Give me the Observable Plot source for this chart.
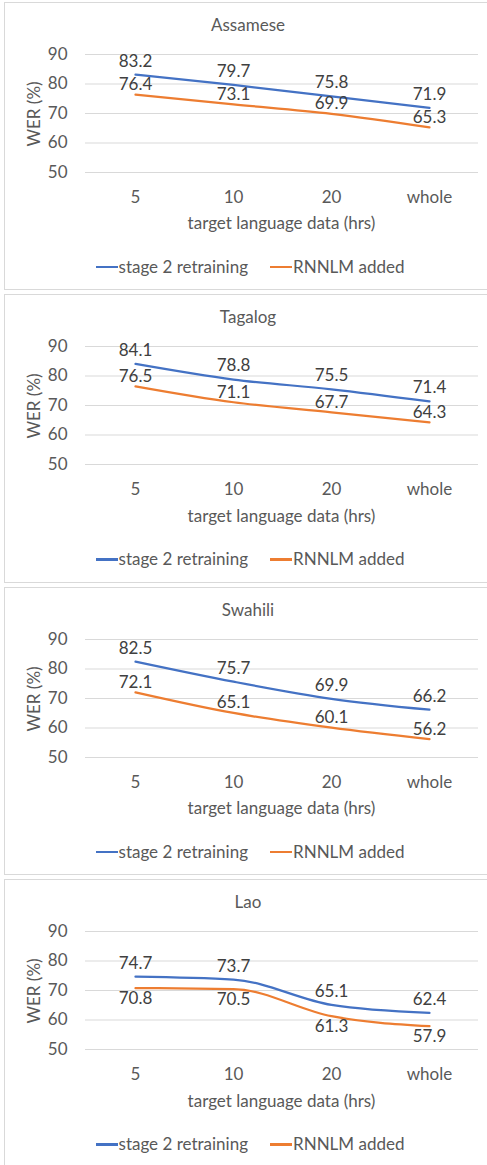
<!DOCTYPE html>
<html><head><meta charset="utf-8">
<script src="https://cdn.jsdelivr.net/npm/d3@7"></script>
<script src="https://cdn.jsdelivr.net/npm/@observablehq/plot@0.6"></script>
<style>
body{margin:0;background:#fff;font-family:Lato,sans-serif;color:#595959;}
#root{position:relative;width:487px;height:1165px;overflow:hidden;}
.panel{position:absolute;left:0;width:487px;height:292px;}
.frame{position:absolute;left:4px;top:0;width:490px;height:286.5px;border:1.5px solid #d9d9d9;box-sizing:content-box;}
.title{position:absolute;left:0;width:496px;text-align:center;top:12px;line-height:21px;font-size:17px;color:#595959;}
.xtitle{position:absolute;left:0;width:563px;text-align:center;top:210.5px;line-height:21px;font-size:17px;color:#595959;}
.ytitle{position:absolute;left:33px;top:112px;width:0;height:0;}
.ytitle span{position:absolute;left:0;top:0;transform:translate(-50%,-50%) rotate(-90deg);white-space:nowrap;font-size:17px;line-height:21px;}
.legend{position:absolute;left:0;width:500px;top:254px;line-height:21px;font-size:17px;text-align:center;color:#595959;white-space:nowrap;}
.legend .item{display:inline-block;margin:0 11px;}
.legend .sw{display:inline-block;width:22px;height:2.5px;vertical-align:middle;margin-right:1px;position:relative;top:-1px;}
.panel svg{position:absolute;left:0;top:0;}
</style>
</head><body><div id="root"></div>
<script>
const categories = ["5", "10", "20", "whole"];
const languages = ["Assamese", "Tagalog", "Swahili", "Lao"];
const seriesNames = ["stage 2 retraining", "RNNLM added"];
const stage2Retraining = [
  [83.2, 79.7, 75.8, 71.9],
  [84.1, 78.8, 75.5, 71.4],
  [82.5, 75.7, 69.9, 66.2],
  [74.7, 73.7, 65.1, 62.4]
];
const rnnlmAdded = [
  [76.4, 73.1, 69.9, 65.3],
  [76.5, 71.1, 67.7, 64.3],
  [72.1, 65.1, 60.1, 56.2],
  [70.8, 70.5, 61.3, 57.9]
];
const yTicks = [50, 60, 70, 80, 90];
const xTitle = "target language data (hrs)";
const yTitle = "WER (%)";

const colors = ["#4472C4", "#ED7D31"];
const root = document.getElementById("root");

languages.forEach((lang, i) => {
  const top = 1.5 + i * 292.5;
  const panel = document.createElement("div");
  panel.className = "panel";
  panel.style.top = top + "px";
  root.appendChild(panel);

  const frame = document.createElement("div");
  frame.className = "frame";
  panel.appendChild(frame);

  const rows = [];
  [stage2Retraining[i], rnnlmAdded[i]].forEach((vals, s) => {
    vals.forEach((v, k) => rows.push({series: seriesNames[s], cat: categories[k], value: v, s}));
  });
  const orangeBelow = lang === "Lao";

  const chart = Plot.plot({
    width: 487,
    height: 215,
    marginTop: 52,
    marginBottom: 45,
    marginLeft: 85,
    marginRight: 9,
    style: {fontFamily: "Lato, sans-serif", fontSize: "17px", color: "#595959", background: "transparent"},
    x: {type: "point", domain: categories, padding: 0.5},
    y: {domain: [50, 90]},
    marks: [
      Plot.gridY(yTicks, {stroke: "#d9d9d9", strokeOpacity: 1, strokeWidth: 1}),
      Plot.axisY(yTicks, {tickSize: 0, tickPadding: 18, label: null, fontSize: 17}),
      Plot.axisX({tickSize: 0, tickPadding: 18, label: null, fontSize: 17}),
      Plot.line(rows, {x: "cat", y: "value", z: "series", stroke: d => colors[d.s], strokeWidth: 2.25, curve: "monotone-x"}),
      Plot.text(rows.filter(d => d.s === 0), {x: "cat", y: "value", text: d => d.value.toFixed(1), dy: -13.5, fill: "#404040", fontSize: 17}),
      Plot.text(rows.filter(d => d.s === 1), {x: "cat", y: "value", text: d => d.value.toFixed(1), dy: orangeBelow ? 10.5 : -10, fill: "#404040", fontSize: 17})
    ]
  });
  panel.appendChild(chart);

  const title = document.createElement("div");
  title.className = "title";
  title.textContent = lang;
  panel.appendChild(title);

  const xt = document.createElement("div");
  xt.className = "xtitle";
  xt.textContent = xTitle;
  panel.appendChild(xt);

  const yt = document.createElement("div");
  yt.className = "ytitle";
  const ys = document.createElement("span");
  ys.textContent = yTitle;
  yt.appendChild(ys);
  panel.appendChild(yt);

  const lg = document.createElement("div");
  lg.className = "legend";
  seriesNames.forEach((name, s) => {
    const it = document.createElement("span");
    it.className = "item";
    const sw = document.createElement("span");
    sw.className = "sw";
    sw.style.background = colors[s];
    it.appendChild(sw);
    it.appendChild(document.createTextNode(name));
    lg.appendChild(it);
  });
  panel.appendChild(lg);
});
</script>
</body></html>
